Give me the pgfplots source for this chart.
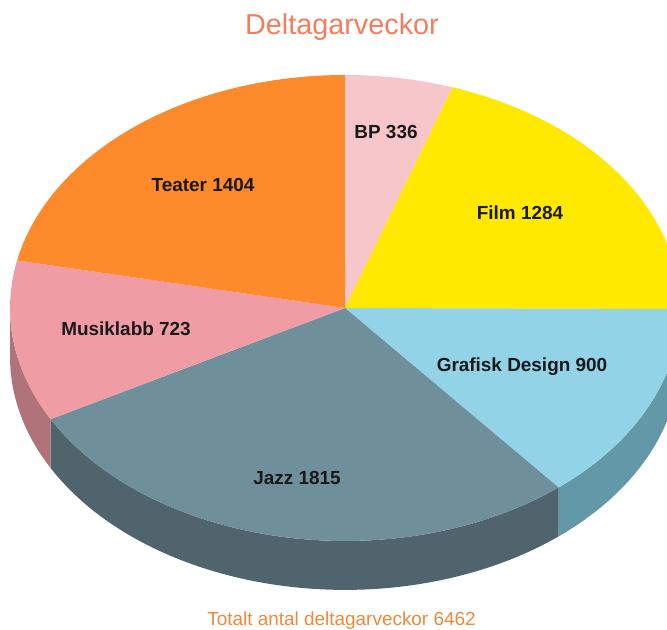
\documentclass[border=0pt]{standalone}
\usepackage{pgfplots}
\pgfplotsset{compat=1.18}
\usepgfplotslibrary{fillbetween}
\usepackage{fontspec}
\setmainfont{Liberation Sans}

\definecolor{cBP}{HTML}{F7C6CB}
\definecolor{cFilm}{HTML}{FFE900}
\definecolor{cGraf}{HTML}{93D3E7}
\definecolor{cJazz}{HTML}{6F8F9A}
\definecolor{cMus}{HTML}{F09CA5}
\definecolor{cTeat}{HTML}{FD8A2B}
\definecolor{wGraf}{HTML}{6298A7}
\definecolor{wJazz}{HTML}{4F646C}
\definecolor{wMus}{HTML}{B0737A}
\definecolor{titlecol}{HTML}{F47D5B}
\definecolor{footcol}{HTML}{EF8838}

% slice values (clockwise from 12 o'clock)
\def\vBP{336}
\def\vFilm{1284}
\def\vGraf{900}
\def\vJazz{1815}
\def\vMus{723}
\def\vTeat{1404}
\pgfmathsetmacro\tot{\vBP+\vFilm+\vGraf+\vJazz+\vMus+\vTeat}
% boundary angles
\pgfmathsetmacro\aA{90}
\pgfmathsetmacro\aB{\aA-(\vBP/\tot)*360}
\pgfmathsetmacro\aC{\aB-(\vFilm/\tot)*360}
\pgfmathsetmacro\aD{\aC-(\vGraf/\tot)*360}
\pgfmathsetmacro\aE{\aD-(\vJazz/\tot)*360}
\pgfmathsetmacro\aF{\aE-(\vMus/\tot)*360}
\pgfmathsetmacro\aG{\aF-(\vTeat/\tot)*360}
\def\dep{0.21}

\begin{document}
\begin{tikzpicture}
\begin{axis}[
  hide axis, scale only axis,
  width=500.25pt, height=472.5pt,
  xmin=-1.0299, xmax=0.9612, ymin=-1.3820, ymax=1.3219,
  clip=true,
]
\path (rel axis cs:0,0) coordinate (SW) (rel axis cs:1,1) coordinate (NE);
% side walls (front half)
\addplot[name path=GT, draw=none, forget plot, domain=\aD:0, samples=60] ({cos(x)},{sin(x)});
\addplot[name path=GB, draw=none, forget plot, domain=\aD:0, samples=60] ({cos(x)},{sin(x)-\dep});
\addplot[fill=wGraf, draw=none, forget plot] fill between[of=GT and GB];
\addplot[name path=JT, draw=none, forget plot, domain=\aE:\aD, samples=80] ({cos(x)},{sin(x)});
\addplot[name path=JB, draw=none, forget plot, domain=\aE:\aD, samples=80] ({cos(x)},{sin(x)-\dep});
\addplot[fill=wJazz, draw=none, forget plot] fill between[of=JT and JB];
\addplot[name path=MT, draw=none, forget plot, domain=-180:\aE, samples=40] ({cos(x)},{sin(x)});
\addplot[name path=MB, draw=none, forget plot, domain=-180:\aE, samples=40] ({cos(x)},{sin(x)-\dep});
\addplot[fill=wMus, draw=none, forget plot] fill between[of=MT and MB];
% top surfaces
\addplot[fill=cBP, draw=none, domain=\aB:\aA, samples=40] ({cos(x)},{sin(x)}) -- (axis cs:0,0) -- cycle;
\addplot[fill=cFilm, draw=none, domain=\aC:\aB, samples=80] ({cos(x)},{sin(x)}) -- (axis cs:0,0) -- cycle;
\addplot[fill=cGraf, draw=none, domain=\aD:\aC, samples=60] ({cos(x)},{sin(x)}) -- (axis cs:0,0) -- cycle;
\addplot[fill=cJazz, draw=none, domain=\aE:\aD, samples=100] ({cos(x)},{sin(x)}) -- (axis cs:0,0) -- cycle;
\addplot[fill=cMus, draw=none, domain=\aF:\aE, samples=40] ({cos(x)},{sin(x)}) -- (axis cs:0,0) -- cycle;
\addplot[fill=cTeat, draw=none, domain=\aG:\aF, samples=80] ({cos(x)},{sin(x)}) -- (axis cs:0,0) -- cycle;
% labels
\begin{scope}[every node/.style={font=\bfseries\fontsize{14.2pt}{16pt}\selectfont, text=black!90}]
\node at (axis cs:0.1224,0.7554) {BP 336};
\node at (axis cs:0.5224,0.4077) {Film 1284};
\node at (axis cs:0.5284,-0.2532) {Grafisk Design 900};
\node at (axis cs:-0.1433,-0.7296) {Jazz 1815};
\node at (axis cs:-0.6537,-0.0901) {Musiklabb 723};
\node at (axis cs:-0.4239,0.5279) {Teater 1404};
\end{scope}
\node[anchor=base, text=titlecol, font=\fontsize{21.6pt}{24pt}\selectfont] at (axis cs:-0.009,1.1717) {Deltagarveckor};
\node[anchor=base, text=footcol, font=\fontsize{14.2pt}{16pt}\selectfont] at (axis cs:-0.0104,-1.3648) {Totalt antal deltagarveckor 6462};
\end{axis}
\pgfresetboundingbox
\useasboundingbox (SW) rectangle (NE);
\end{tikzpicture}
\end{document}
